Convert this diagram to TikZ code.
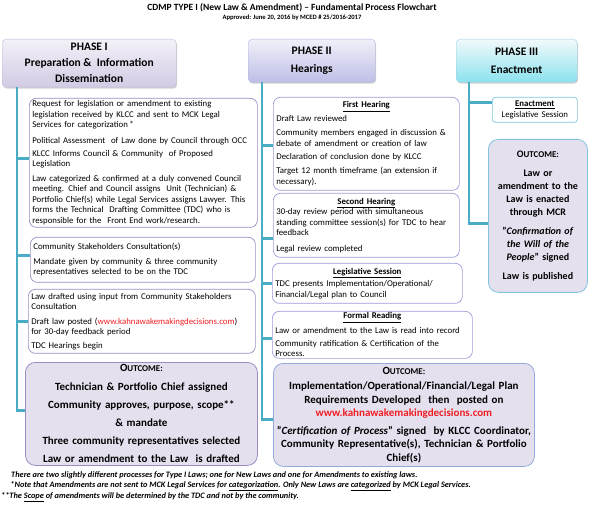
\documentclass[tikz,border=0pt]{standalone}
\usepackage{fontspec}
\setmainfont{Carlito}
\usepackage{tikz}
\usetikzlibrary{shadows}

\definecolor{linkteal}{HTML}{4BACC6}
\definecolor{onebord}{HTML}{9C8BC4}
\definecolor{twobord}{HTML}{9C9CDA}
\definecolor{threebord}{HTML}{7FC4DC}
\definecolor{outfill}{HTML}{E5E0EE}
\definecolor{urlred}{HTML}{F01E23}
\newcommand{\outcomeword}{O{\fontsize{8.9}{8}\selectfont UTCOME:}}
\newcommand{\boxtitle}[1]{\makebox[\hsize][c]{\textbf{\underline{#1}}}}

\begin{document}
\begin{tikzpicture}[x=1pt,y=-1pt,
	hdr/.style={rounded corners=4pt,anchor=north west,align=center,inner sep=0pt,
		font=\fontsize{11.5}{16}\selectfont\bfseries,
		drop shadow={shadow xshift=1pt,shadow yshift=-1.5pt,opacity=.35}},
	itembox/.style={draw,rounded corners=7pt,anchor=north west,fill=white,line width=.7pt,
		inner xsep=3pt,inner ysep=1pt,align=left,font=\fontsize{8.8}{10.5}\selectfont},
	outbox/.style={draw,rounded corners=10pt,anchor=north west,fill=outfill,line width=.8pt,
		inner xsep=3pt,inner ysep=1pt,align=center,font=\fontsize{11}{13.5}\selectfont\bfseries},
	link/.style={draw=linkteal,line width=2.4pt}]
	\useasboundingbox (0,0) rectangle (590,508);
	% title
	\node[font=\fontsize{9.5}{11}\selectfont\bfseries] (title) at (292,8)
		{CDMP TYPE I (New Law \& Amendment) -- Fundamental Process Flowchart};
	\node[font=\fontsize{6.6}{7}\selectfont\bfseries] (approved) at (292,18)
		{Approved: June 20, 2016 by MCED \# 25/2016-2017};
	%% the phase headers
	\node[hdr,draw=onebord!60,top color=black!2!onebord!12,bottom color=onebord!45,
		minimum width=174pt,minimum height=48pt] (hdr1) at (2,39)
		{PHASE I\\ Preparation \& \ Information\\ Dissemination};
	\node[hdr,draw=twobord!80,top color=twobord!15,bottom color=twobord!65,
		minimum width=127pt,minimum height=43pt] (hdr2) at (248,39)
		{PHASE II\\[2pt] Hearings};
	\node[hdr,draw=threebord!80,top color=threebord!10!white,bottom color=cyan!30!threebord!70,
		minimum width=121pt,minimum height=43pt] (hdr3) at (456,39)
		{PHASE III\\[2pt] Enactment};
	%% phase I
	\node[itembox,draw=onebord,text width=222pt,minimum height=129pt] (p1a) at (29,98)
		{Request for legislation or amendment to existing\\
		legislation received by KLCC and sent to MCK Legal\\
		Services for categorization\,*\\[5pt]
		Political Assessment \ of Law done by Council through OCC\\[2.5pt]
		KLCC Informs Council \& Community \ of Proposed\\
		Legislation\\[4pt]
		Law categorized \& confirmed at a duly convened Council\\
		meeting. Chief and Council assigns \ Unit (Technician) \&\\
		Portfolio Chief(s) while Legal Services assigns Lawyer. This\\
		forms the Technical \ Drafting Committee (TDC) who is\\
		responsible for the \ Front End work/research.};
	\node[itembox,draw=onebord,text width=219pt,minimum height=45pt] (p1b) at (30,237)
		{Community Stakeholders Consultation(s)\\[4pt]
		Mandate given by community \& three community\\
		representatives selected to be on the TDC};
	\node[itembox,draw=onebord,text width=221pt,minimum height=64pt] (p1c) at (28,289)
		{Law drafted using input from Community Stakeholders\\
		Consultation\\[4pt]
		Draft law posted ({\color{urlred}www.kahnawakemakingdecisions.com})\\
		for 30-day feedback period\\[3pt]
		TDC Hearings begin};
	\node[outbox,draw=onebord,text width=226pt,minimum height=103pt] (o1) at (25,362)
		{\outcomeword\\[4.7pt]
		Technician \& Portfolio Chief assigned\\[4.7pt]
		Community approves, purpose, scope**\\[4.7pt]
		\& mandate\\[4.7pt]
		Three community representatives selected\\[4.7pt]
		Law or amendment to the Law \ is drafted};
	%% phase II
	\node[itembox,draw=twobord,text width=180pt,minimum height=93pt] (p2a) at (273,97)
		{\boxtitle{First Hearing}\\[3pt]
		Draft Law reviewed\\[4pt]
		Community members engaged in discussion \&\\
		debate of amendment or creation of law\\[2.5pt]
		Declaration of conclusion done by KLCC\\[4pt]
		Target 12 month timeframe (an extension if\\
		necessary).};
	\node[itembox,draw=twobord,text width=180pt,minimum height=64pt] (p2b) at (273,193)
		{\boxtitle{Second Hearing}\\
		30-day review period with simultaneous\\
		standing committee session(s) for TDC to hear\\
		feedback\\[5pt]
		Legal review completed};
	\node[itembox,draw=twobord,text width=184pt,minimum height=40pt] (p2c) at (272,263)
		{\boxtitle{Legislative Session}\\[2pt]
		TDC presents Implementation/Operational/\\
		Financial/Legal plan to Council};
	\node[itembox,draw=twobord,text width=194pt,minimum height=47pt] (p2d) at (272,311)
		{\boxtitle{Formal Reading}\\[4pt]
		Law or amendment to the Law is read into record\\[2.5pt]
		Community ratification \& Certification of the\\
		Process.};
	\node[outbox,draw=twobord!70!threebord,text width=255pt,minimum height=103pt] (o2) at (273,363)
		{\outcomeword\\[2pt]
		Implementation/Operational/Financial/Legal Plan\\
		Requirements Developed \ then \ posted on\\
		{\color{urlred}www.kahnawakemakingdecisions.com}\\[4pt]
		"\textit{Certification of Process}" signed \ by KLCC Coordinator,\\
		Community Representative(s), Technician \& Portfolio\\
		Chief(s)};
	%% phase III
	\node[itembox,draw=threebord,rounded corners=3pt,align=center,text width=79pt,
		minimum height=25pt] (p3a) at (492,97)
		{\textbf{\underline{Enactment}}\\ Legislative Session};
	\node[outbox,draw=threebord,text width=93pt,minimum height=153pt,
		font=\fontsize{10}{13}\selectfont\bfseries] (o3) at (488,139)
		{\outcomeword\\[6pt]
		Law or\\ amendment to the\\ Law is enacted\\ through MCR\\[6pt]
		"\textit{Confirmation of}\\ \textit{the Will of the}\\ \textit{People}" signed\\[6pt]
		Law is published};
	%% the connectors
	\coordinate (t1) at ([xshift=15pt]hdr1.south west);
	\coordinate (t2) at ([xshift=14pt]hdr2.south west);
	\coordinate (t3) at ([xshift=13pt]hdr3.south west);
	\draw[link] (t1) |- ([yshift=4.5pt]p1a.west);
	\draw[link] (t1) |- ([yshift=4.5pt]p1b.west);
	\draw[link] (t1) |- (p1c.west);
	\draw[link] (t1) |- ([yshift=3.5pt]o1.west);
	\draw[link] (t2) |- ([yshift=-1.5pt]p2a.west);
	\draw[link] (t2) |- ([yshift=-13pt]p2b.west);
	\draw[link] (t2) |- (p2c.west);
	\draw[link] (t2) |- ([yshift=-3.5pt]p2d.west);
	\draw[link] (t2) |- ([yshift=-4.5pt]o2.west);
	\draw[link] (t3) |- ([yshift=7.5pt]p3a.west);
	\draw[link] (t3) |- ([yshift=-7.5pt]o3.west);
	%% the notes
	\begin{scope}[font=\fontsize{8.3}{9}\selectfont\bfseries\itshape]
	\node[anchor=west,inner sep=0pt] (note1) at (11,475)
		{There are two slightly different processes for Type I Laws; one for New Laws and one for Amendments to existing laws.};
	\node[anchor=east,inner sep=0pt] (note2) at (471,486)
		{*Note that Amendments are not sent to MCK Legal Services for \underline{categorization}. Only New Laws are \underline{categorized} by MCK Legal Services.};
	\node[anchor=west,inner sep=0pt] (note3) at (1,497)
		{**The \underline{Scope} of amendments will be determined by the TDC and not by the community.};
	\end{scope}
\end{tikzpicture}
\end{document}
